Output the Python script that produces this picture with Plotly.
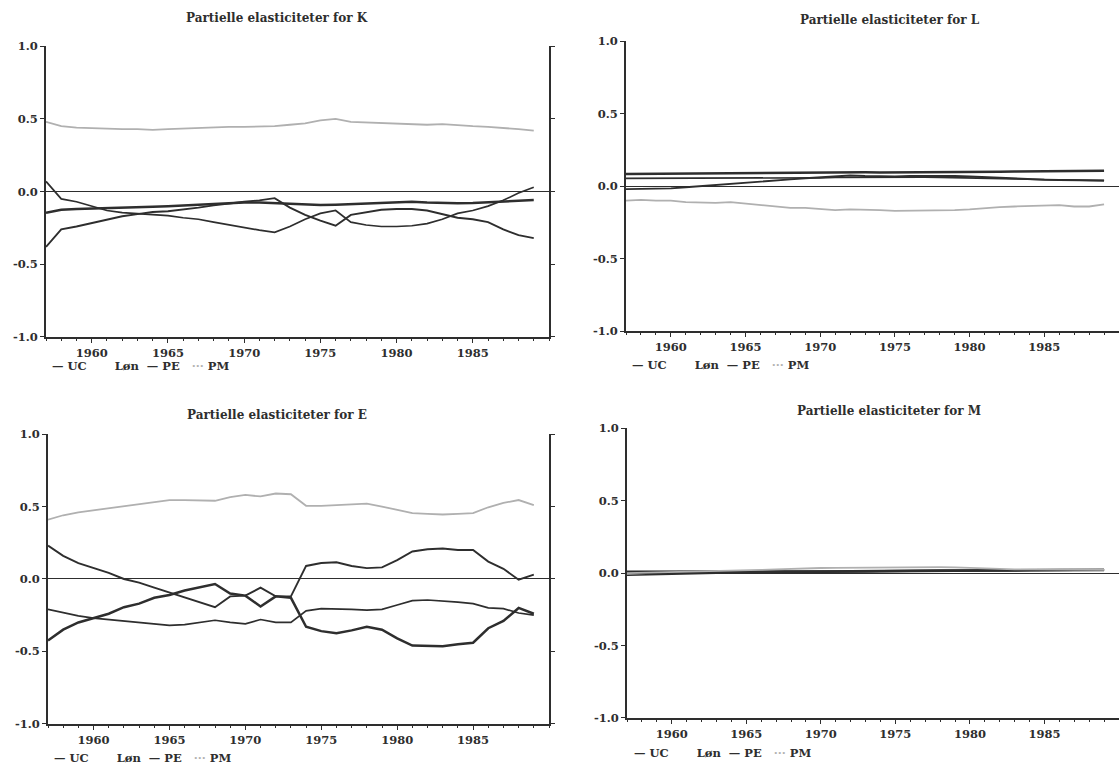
import plotly.graph_objects as go

years = list(range(1957, 1990))

# Panel K
k_uc = [0.07, -0.05, -0.07, -0.10, -0.13, -0.145, -0.15, -0.155, -0.165, -0.18,
        -0.19, -0.21, -0.23, -0.25, -0.265, -0.28, -0.24, -0.19, -0.15, -0.13,
        -0.21, -0.23, -0.24, -0.24, -0.235, -0.22, -0.19, -0.15, -0.13, -0.10, -0.06, -0.01, 0.03]
k_lon = [-0.38, -0.26, -0.24, -0.215, -0.195, -0.17, -0.155, -0.14, -0.135, -0.125,
         -0.11, -0.095, -0.08, -0.07, -0.06, -0.045, -0.11, -0.16, -0.2, -0.235,
         -0.16, -0.14, -0.125, -0.12, -0.12, -0.13, -0.155, -0.18, -0.19, -0.21, -0.26, -0.3, -0.32]
k_pe = [-0.145, -0.125, -0.12, -0.118, -0.115, -0.113, -0.11, -0.105, -0.1, -0.095,
        -0.088, -0.082, -0.078, -0.075, -0.075, -0.08, -0.085, -0.09, -0.092, -0.09,
        -0.085, -0.08, -0.075, -0.072, -0.07, -0.075, -0.08, -0.08, -0.078, -0.072, -0.065, -0.06, -0.058]
k_pm = [0.48, 0.45, 0.44, 0.435, 0.435, 0.43, 0.43, 0.425, 0.43, 0.435,
        0.44, 0.44, 0.445, 0.445, 0.445, 0.45, 0.46, 0.47, 0.49, 0.5,
        0.48, 0.475, 0.475, 0.47, 0.465, 0.46, 0.465, 0.455, 0.45, 0.445, 0.44, 0.43, 0.42]

# Panel L
l_uc = [0.054, 0.054, 0.053, 0.053, 0.053, 0.053, 0.054, 0.054, 0.054, 0.055,
        0.055, 0.056, 0.057, 0.058, 0.06, 0.061, 0.062, 0.063, 0.063, 0.063,
        0.062, 0.061, 0.06, 0.058, 0.056, 0.054, 0.051, 0.048, 0.046, 0.044, 0.042, 0.04, 0.038]
l_lon = [-0.02, -0.02, -0.018, -0.015, -0.007, 0.0, 0.008, 0.015, 0.022, 0.03,
         0.038, 0.047, 0.055, 0.063, 0.07, 0.074, 0.07, 0.066, 0.067, 0.07,
         0.071, 0.072, 0.07, 0.067, 0.062, 0.056, 0.05, 0.047, 0.045, 0.043, 0.041, 0.04, 0.039]
l_pe = [0.085, 0.086, 0.087, 0.087, 0.088, 0.089, 0.09, 0.09, 0.091, 0.092,
        0.093, 0.094, 0.095, 0.096, 0.097, 0.097, 0.096, 0.095, 0.095, 0.096,
        0.097, 0.097, 0.098, 0.099, 0.1, 0.1, 0.101, 0.102, 0.103, 0.104, 0.105, 0.106, 0.106]
l_pm = [-0.10, -0.095, -0.10, -0.10, -0.11, -0.115, -0.115, -0.11, -0.12, -0.135,
        -0.145, -0.15, -0.15, -0.155, -0.165, -0.16, -0.16, -0.165, -0.17, -0.17,
        -0.17, -0.17, -0.165, -0.16, -0.15, -0.145, -0.14, -0.135, -0.13, -0.13, -0.14, -0.14, -0.125]

# Panel E
e_uc = [-0.21, -0.235, -0.255, -0.27, -0.28, -0.29, -0.3, -0.305, -0.32, -0.315,
        -0.3, -0.285, -0.3, -0.31, -0.28, -0.3, -0.3, -0.22, -0.205, -0.205,
        -0.21, -0.215, -0.21, -0.18, -0.15, -0.145, -0.15, -0.16, -0.17, -0.2, -0.205, -0.235, -0.25]
e_lon = [0.23, 0.16, 0.11, 0.077, 0.042, 0.0, -0.025, -0.06, -0.095, -0.13,
         -0.16, -0.195, -0.12, -0.115, -0.06, -0.12, -0.12, 0.09, 0.11, 0.115,
         0.09, 0.075, 0.08, 0.13, 0.19, 0.205, 0.21, 0.2, 0.2, 0.12, 0.07, -0.005, 0.03]
e_pe = [-0.425, -0.35, -0.3, -0.27, -0.24, -0.195, -0.17, -0.13, -0.11, -0.08,
        -0.055, -0.035, -0.1, -0.115, -0.19, -0.12, -0.13, -0.33, -0.36, -0.375,
        -0.355, -0.33, -0.35, -0.41, -0.46, -0.465, -0.465, -0.45, -0.44, -0.34, -0.29, -0.2, -0.24]
e_pm = [0.41, 0.44, 0.46, 0.475, 0.49, 0.505, 0.515, 0.535, 0.545, 0.545,
        0.545, 0.54, 0.565, 0.58, 0.57, 0.59, 0.585, 0.505, 0.505, 0.51,
        0.52, 0.52, 0.5, 0.475, 0.455, 0.45, 0.445, 0.45, 0.455, 0.495, 0.525, 0.545, 0.51]

# Panel M
m_uc = [-0.015, -0.012, -0.01, -0.007, -0.004, -0.002, 0.0, 0.001, 0.002, 0.003,
        0.004, 0.005, 0.006, 0.007, 0.008, 0.009, 0.01, 0.011, 0.012, 0.013,
        0.014, 0.015, 0.016, 0.017, 0.018, 0.019, 0.02, 0.02, 0.021, 0.021, 0.022, 0.022, 0.022]
m_lon = [0.012, 0.012, 0.011, 0.01, 0.01, 0.009, 0.009, 0.008, 0.008, 0.008,
         0.009, 0.01, 0.01, 0.011, 0.012, 0.012, 0.013, 0.014, 0.015, 0.016,
         0.017, 0.018, 0.02, 0.021, 0.023, 0.024, 0.025, 0.025, 0.025, 0.024, 0.024, 0.023, 0.023]
m_pe = [0.004, 0.004, 0.004, 0.005, 0.005, 0.005, 0.006, 0.006, 0.007, 0.008,
        0.009, 0.01, 0.011, 0.012, 0.013, 0.015, 0.016, 0.018, 0.02, 0.02,
        0.019, 0.018, 0.017, 0.016, 0.016, 0.017, 0.018, 0.019, 0.02, 0.02, 0.021, 0.021, 0.021]
m_pm = [0.0, 0.002, 0.004, 0.006, 0.008, 0.01, 0.012, 0.015, 0.018, 0.022,
        0.026, 0.03, 0.033, 0.035, 0.036, 0.037, 0.038, 0.04, 0.042, 0.043,
        0.042, 0.041, 0.04, 0.035, 0.03, 0.027, 0.025, 0.025, 0.024, 0.024, 0.023, 0.023, 0.022]

x_tickvals = [1960, 1965, 1970, 1975, 1980, 1985]
x_ticktext = ["1960", "1965", "1970", "1975", "1980", "1985"]
y_tickvals = [-1.0, -0.5, 0.0, 0.5, 1.0]
y_ticktext = ["-1.0", "-0.5", "0.0", "0.5", "1.0"]

panel_titles = ["Partielle elasticiteter for K", "Partielle elasticiteter for L",
                "Partielle elasticiteter for E", "Partielle elasticiteter for M"]

W, H = 1119, 775
INK = "#2e2e2e"
PMCOL = "#b0b0b0"
FONT = dict(family="DejaVu Serif", size=11.5, color=INK, weight="bold")
TFONT = dict(family="DejaVu Serif", size=12, color=INK, weight="bold")

panels = [
    # data, axis suffix, x px (left,right), y px (top,bottom), mirror, title px, legend px
    ((k_uc, k_lon, k_pe, k_pm), "", (46, 549), (40, 336), True, (277, 11), (50, 366)),
    ((l_uc, l_lon, l_pe, l_pm), "2", (626, 1119), (35, 330), False, (890, 13), (630, 365)),
    ((e_uc, e_lon, e_pe, e_pm), "3", (48, 549), (435, 730), True, (277, 416), (52, 765)),
    ((m_uc, m_lon, m_pe, m_pm), "4", (627, 1119), (429, 724), False, (889, 411), (632, 760)),
]

NB = "&nbsp;"
legend_text = ("—" + NB + "UC" + NB * 7 + "Løn" + NB * 2 + "—" + NB + "PE" + NB * 3
               + "<span style='color:%s'>···</span>" % PMCOL + NB + "PM")

fig = go.Figure()
annotations = []
styles = [("UC", INK, 1.7), ("Løn", INK, 1.9), ("PE", INK, 2.5)]
for i, (data, sfx, xpx, ypx, mirror, tpx, lpx) in enumerate(panels):
    xa = "x" + sfx
    ya = "y" + sfx
    for (name, col, w), vals in zip(styles, data[:3]):
        fig.add_trace(go.Scatter(x=years, y=vals, mode="lines", name=name,
                                 line=dict(color=col, width=w), xaxis=xa, yaxis=ya,
                                 showlegend=False))
    fig.add_trace(go.Scatter(x=years, y=data[3], mode="lines", name="PM",
                             line=dict(color=PMCOL, width=1.8), xaxis=xa, yaxis=ya,
                             showlegend=False))
    xdom = [xpx[0] / W, xpx[1] / W]
    ydom = [1 - ypx[1] / H, 1 - ypx[0] / H]
    fig.layout["xaxis" + sfx] = dict(
        domain=xdom, anchor=ya, range=[1957, 1990], showgrid=False, zeroline=False,
        showline=True, linecolor=INK, linewidth=1.8, ticks="outside", ticklen=4,
        tickcolor=INK, tickvals=x_tickvals, ticktext=x_ticktext, tickfont=FONT,
        minor=dict(dtick=1, ticks="outside", ticklen=2, tickcolor=INK))
    fig.layout["yaxis" + sfx] = dict(
        domain=ydom, anchor=xa, range=[-1, 1], showgrid=False, zeroline=True,
        zerolinecolor=INK, zerolinewidth=1.3, showline=True, linecolor=INK,
        linewidth=1.8, ticks="outside", ticklen=4, tickcolor=INK,
        tickvals=y_tickvals, ticktext=y_ticktext, tickfont=FONT,
        mirror="ticks" if mirror else False)
    annotations.append(dict(text=panel_titles[i], x=tpx[0] / W, y=1 - tpx[1] / H,
                            xref="paper", yref="paper", showarrow=False,
                            xanchor="center", yanchor="middle", font=TFONT))
    annotations.append(dict(text=legend_text, x=lpx[0] / W, y=1 - lpx[1] / H,
                            xref="paper", yref="paper", showarrow=False,
                            xanchor="left", yanchor="middle", font=FONT))

fig.update_layout(width=W, height=H, autosize=False,
                  margin=dict(l=0, r=0, t=0, b=0, pad=0),
                  paper_bgcolor="white", plot_bgcolor="white",
                  annotations=annotations, showlegend=False)

fig.write_html("out.html")
